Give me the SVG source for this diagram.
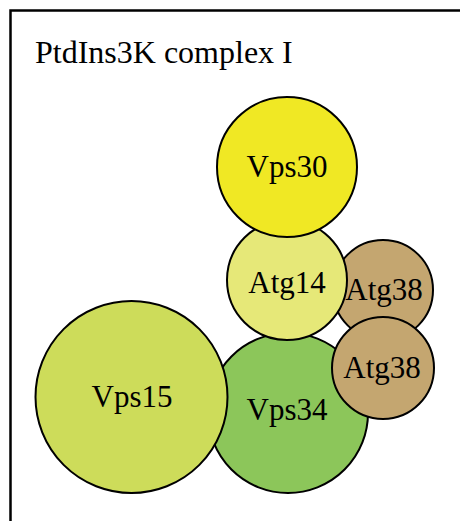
<svg xmlns="http://www.w3.org/2000/svg" width="460" height="521" viewBox="0 0 460 521">
<style>
.c{stroke:#000;stroke-width:2}
.t{font-family:"Liberation Serif","Times New Roman",serif;font-size:31px;fill:#000;text-anchor:middle}
</style>
<rect width="460" height="521" fill="#fff"/>
<g id="frame">
<rect x="10.5" y="10.5" width="520" height="600" fill="#fff" stroke="#000" stroke-width="2.5"/>
<text x="35" y="63" class="t" style="text-anchor:start;font-size:32px">PtdIns3K complex I</text>
</g>
<g id="connectors"></g>
<g id="vps34"><circle class="c" cx="288" cy="413" r="80" fill="#8cc65a"/><text class="t" x="287" y="420">Vps34</text></g>
<g id="vps15"><circle class="c" cx="131.5" cy="397" r="96" fill="#cddc5a"/><text class="t" x="132" y="407">Vps15</text></g>
<g id="atg38a"><circle class="c" cx="383" cy="290" r="50" fill="#c4a670"/><text class="t" x="384" y="300">Atg38</text></g>
<g id="atg14"><circle class="c" cx="287" cy="280" r="60" fill="#e6e878"/><text class="t" x="287" y="293">Atg14</text></g>
<g id="vps30"><circle class="c" cx="287" cy="167" r="70" fill="#f0e824"/><text class="t" x="287" y="177">Vps30</text></g>
<g id="atg38b"><circle class="c" cx="383" cy="368" r="51" fill="#c4a670"/><text class="t" x="382" y="378">Atg38</text></g>
</svg>
